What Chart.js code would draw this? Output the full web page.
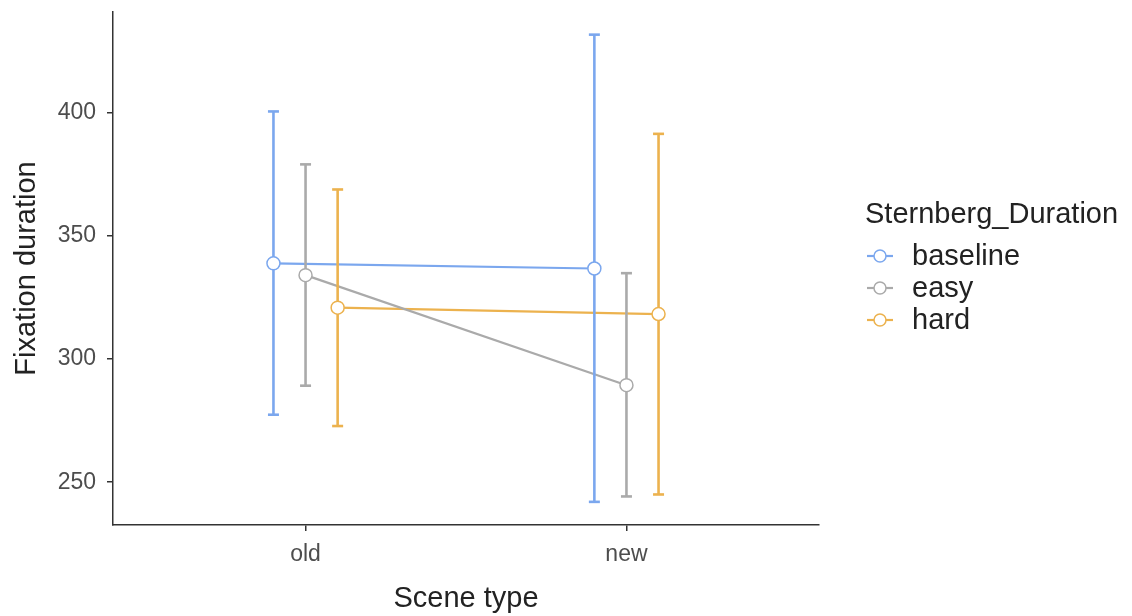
<!DOCTYPE html>
<html>
<head>
<meta charset="utf-8">
<script src="https://cdn.jsdelivr.net/npm/chart.js@4.4.0/dist/chart.umd.min.js"></script>
<style>
  html, body { margin: 0; padding: 0; background: #fff; }
  #wrap { width: 1132px; height: 616px; }
</style>
</head>
<body>
<div id="wrap"><canvas id="fixChart" width="1132" height="616"></canvas></div>
<script>
// values
const categories = ['old', 'new'];
const groups = ['baseline', 'easy', 'hard'];
const baselineMean = [338.9, 336.8];
const baselineLow = [277.4, 242.0];
const baselineHigh = [400.6, 431.8];
const easyMean = [334.1, 289.4];
const easyLow = [289.2, 244.2];
const easyHigh = [379.1, 334.9];
const hardMean = [320.9, 318.3];
const hardLow = [272.8, 245.0];
const hardHigh = [368.9, 391.5];
const yTicks = [250, 300, 350, 400];

const colors = ['#7ba7ee', '#aaaaaa', '#ecb24e'];
const dodge = [-0.1, 0, 0.1]; // position_dodge
const means = [baselineMean, easyMean, hardMean];
const lows = [baselineLow, easyLow, hardLow];
const highs = [baselineHigh, easyHigh, hardHigh];

Chart.defaults.font.family = '"Liberation Sans", Arial, sans-serif';

const datasets = [];
groups.forEach((g, i) => {
  const pts = categories.map((c, k) => ({ x: k + 1 + dodge[i], y: means[i][k] }));
  // points (top)
  datasets.push({
    label: g, data: pts, order: 0, showLine: false,
    pointRadius: 6.5, pointBorderWidth: 1.5,
    pointBackgroundColor: '#ffffff', pointBorderColor: colors[i]
  });
  // lines (bottom)
  datasets.push({
    label: g + ' line', data: pts, order: 2,
    borderColor: colors[i], borderWidth: 2.2, pointRadius: 0
  });
  // error bars, caps drawn as 'line' point style
  categories.forEach((c, k) => {
    datasets.push({
      label: g + ' err ' + c, order: 1,
      data: [{ x: k + 1 + dodge[i], y: lows[i][k] }, { x: k + 1 + dodge[i], y: highs[i][k] }],
      borderColor: colors[i], borderWidth: 2.6,
      pointStyle: 'line', pointRadius: 5.5, pointBorderWidth: 2.6,
      pointBorderColor: colors[i], pointBackgroundColor: colors[i]
    });
  });
});

// ggplot style legend on the right
const legendPlugin = {
  id: 'sideLegend',
  afterDraw(chart) {
    const ctx = chart.ctx;
    ctx.save();
    ctx.fillStyle = '#222';
    ctx.textBaseline = 'middle';
    ctx.font = '29px "Liberation Sans", Arial, sans-serif';
    ctx.fillText('Sternberg_Duration', 865, 215);
    groups.forEach((g, i) => {
      const y = 256 + i * 32;
      ctx.strokeStyle = colors[i];
      ctx.lineWidth = 2.2;
      ctx.beginPath();
      ctx.moveTo(867, y);
      ctx.lineTo(893, y);
      ctx.stroke();
      ctx.beginPath();
      ctx.arc(880, y, 6, 0, Math.PI * 2);
      ctx.fillStyle = '#fff';
      ctx.fill();
      ctx.lineWidth = 1.5;
      ctx.stroke();
      ctx.fillStyle = '#222';
      ctx.fillText(g, 912, y + 1);
    });
    ctx.restore();
  }
};

new Chart(document.getElementById('fixChart').getContext('2d'), {
  type: 'line',
  data: { datasets: datasets },
  options: {
    responsive: false,
    animation: false,
    devicePixelRatio: 1,
    layout: { padding: { top: 12, right: 313, bottom: 0, left: 0 } },
    plugins: { legend: { display: false }, tooltip: { enabled: false } },
    scales: {
      x: {
        type: 'linear', min: 0.4, max: 2.6,
        afterBuildTicks: s => { s.ticks = categories.map((c, k) => ({ value: k + 1 })); },
        afterFit: s => { s.height = 91; s.paddingLeft = 0; s.paddingRight = 0; },
        ticks: {
          callback: v => categories[v - 1],
          font: { size: 23 }, color: '#4d4d4d', padding: 10, maxRotation: 0
        },
        grid: { drawOnChartArea: false, drawTicks: true, tickLength: 6, color: '#333', lineWidth: 1.5 },
        border: { display: true, color: '#333', width: 1.5 },
        title: { display: true, text: 'Scene type', font: { size: 29 }, color: '#222', padding: { top: 0, bottom: 0 } }
      },
      y: {
        type: 'linear', min: 232.6, max: 441,
        afterBuildTicks: s => { s.ticks = yTicks.map(v => ({ value: v })); },
        afterFit: s => { s.width = 113; s.paddingTop = 0; s.paddingBottom = 0; },
        ticks: { font: { size: 23 }, color: '#4d4d4d', padding: 11 },
        grid: { drawOnChartArea: false, drawTicks: true, tickLength: 6, color: '#333', lineWidth: 1.5 },
        border: { display: true, color: '#333', width: 1.5 },
        title: { display: true, text: 'Fixation duration', font: { size: 29 }, color: '#222', padding: { top: 10, bottom: 0 } }
      }
    }
  },
  plugins: [legendPlugin]
});
</script>
</body>
</html>
